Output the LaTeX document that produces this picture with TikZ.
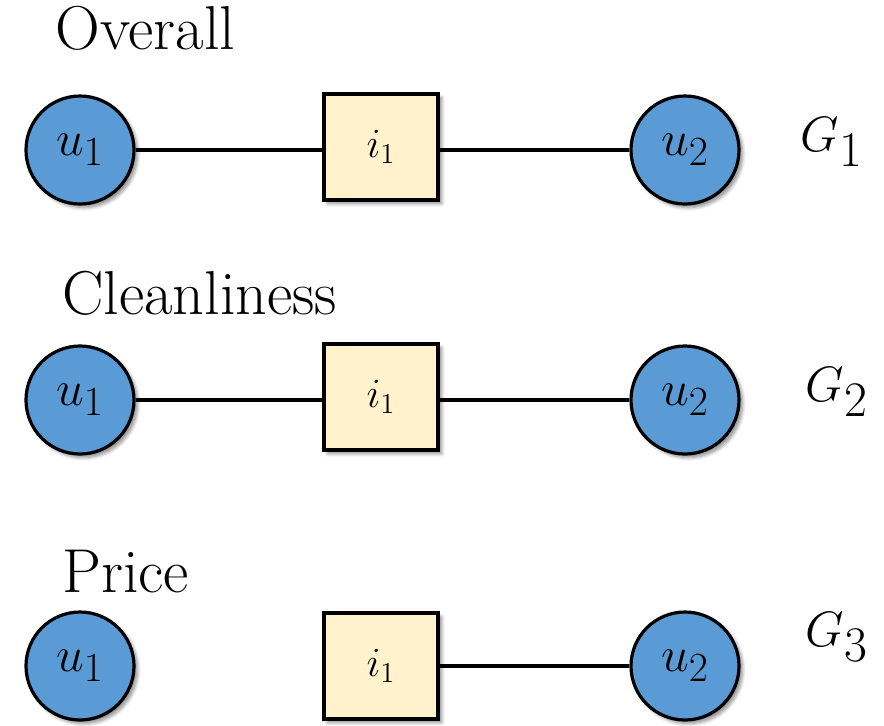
\documentclass[tikz,border=0pt]{standalone}
\usetikzlibrary{shadows.blur}
\definecolor{userblue}{HTML}{5B9BD5}
\definecolor{itemyellow}{HTML}{FFF2CC}
\begin{document}
\begin{tikzpicture}[x=0.5pt,y=-0.5pt,
  user/.style={circle,draw=black,line width=1.6pt,fill=userblue,
    minimum size=54pt,inner sep=0pt,font=\fontsize{30}{34}\selectfont,
    blur shadow={shadow xshift=1.8pt,shadow yshift=-1.8pt,shadow opacity=45,shadow blur steps=6}},
  item/.style={rectangle,draw=black,line width=1.6pt,fill=itemyellow,
    minimum width=57pt,minimum height=53pt,inner sep=0pt,font=\fontsize{22}{26}\selectfont,
    blur shadow={shadow xshift=1.8pt,shadow yshift=-1.8pt,shadow opacity=45,shadow blur steps=6}},
  edge/.style={line width=1.6pt},
  title/.style={anchor=base west,inner sep=0pt,font=\fontsize{31}{36}\selectfont},
  graphname/.style={inner sep=0pt,font=\fontsize{36}{40}\selectfont}]
\useasboundingbox (0,0) rectangle (884,725);

% Overall
\node[title] (t1) at (55,49) {Overall};
\node[user] (a1) at (80,150) {$u_1$};
\node[item] (b1) at (381,147) {$i_1$};
\node[user] (c1) at (685,150) {$u_2$};
\draw[edge] (a1) -- (a1 -| b1.west);
\draw[edge] (b1.east |- c1) -- (c1);
\node[graphname] (g1) at (832,142) {$G_1$};

% Cleanliness
\node[title] (t2) at (62,314) {Cleanliness};
\node[user] (a2) at (80,400) {$u_1$};
\node[item] (b2) at (381,397) {$i_1$};
\node[user] (c2) at (685,400) {$u_2$};
\draw[edge] (a2) -- (a2 -| b2.west);
\draw[edge] (b2.east |- c2) -- (c2);
\node[graphname] (g2) at (837,392) {$G_2$};

% Price
\node[title] (t3) at (62,592) {Price};
\node[user] (a3) at (80,666) {$u_1$};
\node[item] (b3) at (381,666) {$i_1$};
\node[user] (c3) at (685,666) {$u_2$};
\draw[edge] (b3.east |- c3) -- (c3);
\node[graphname] (g3) at (837,637) {$G_3$};
\end{tikzpicture}
\end{document}
